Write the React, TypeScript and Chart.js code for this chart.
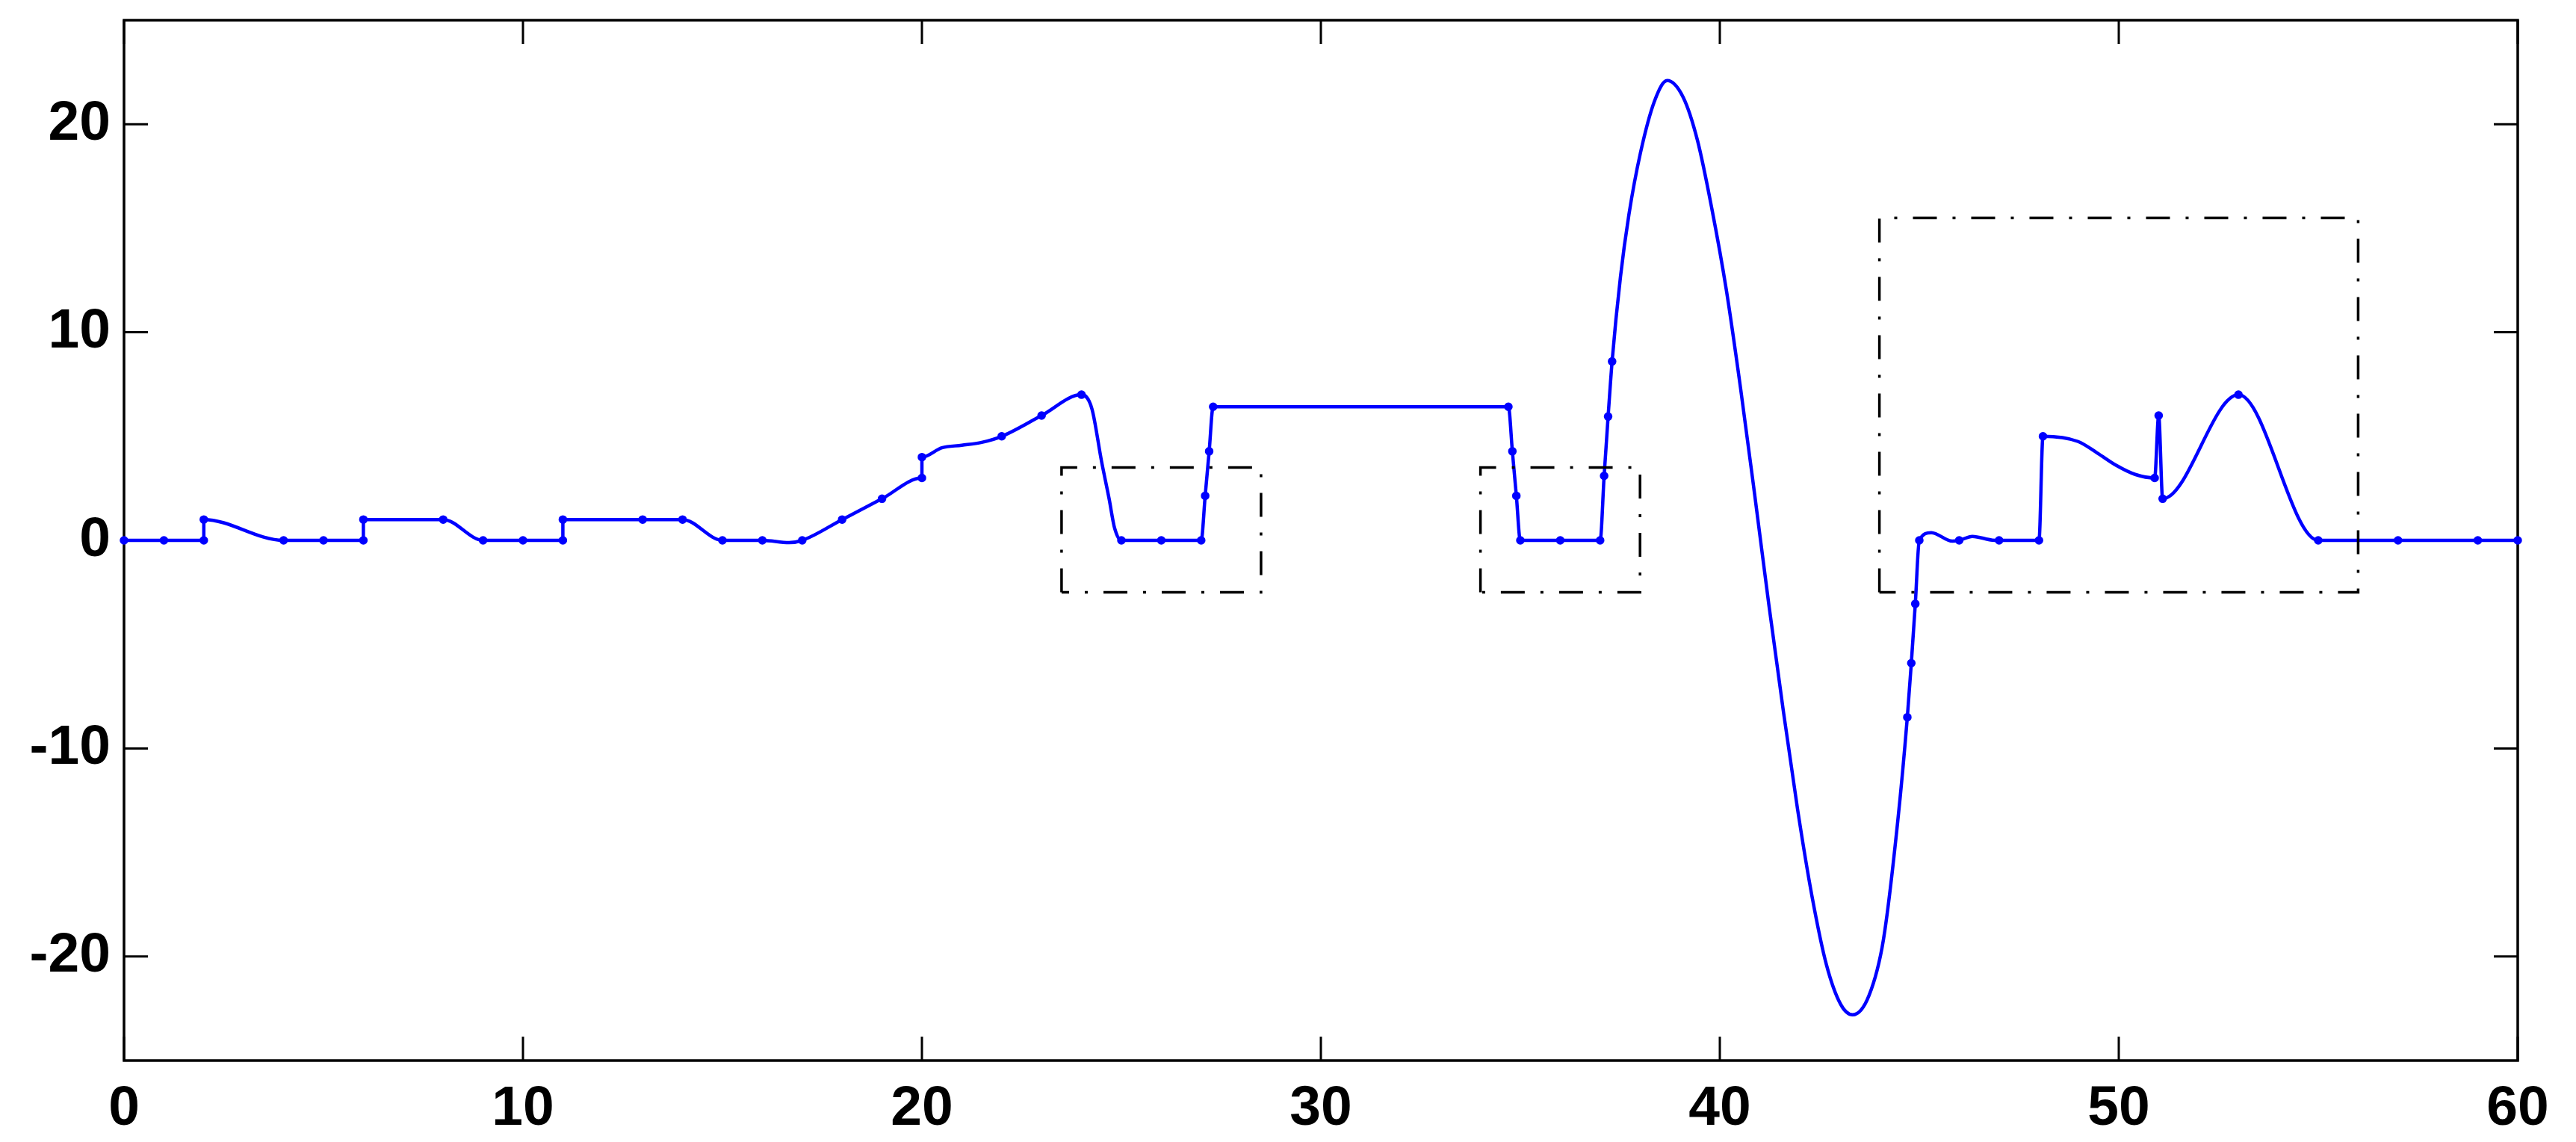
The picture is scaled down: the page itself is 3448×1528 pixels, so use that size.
import { useEffect, useRef } from 'react';
import { Chart, registerables } from 'chart.js';

Chart.register(...registerables);

// marked samples of the signal (jumps share the same x)
const sampleX = [
  0, 1, 2, 2, 4, 5, 6, 6, 8, 9, 10, 11, 11, 13, 14, 15, 16, 17, 18, 19, 20, 20, 22, 23, 24,
  25, 26, 27, 27.1, 27.2, 27.3, 34.7, 34.8, 34.9, 35, 36, 37, 37.1, 37.2, 37.3,
  44.7, 44.8, 44.9, 45, 46, 47, 48, 48.1, 50.9, 51, 51.1, 53, 55, 57, 59, 60,
];
const sampleY = [
  0, 0, 0, 1, 0, 0, 0, 1, 1, 0, 0, 0, 1, 1, 1, 0, 0, 0, 1, 2, 3, 4, 5, 6, 7,
  0, 0, 0, 2.14, 4.28, 6.42, 6.42, 4.28, 2.14, 0, 0, 0, 3.1, 5.95, 8.6,
  -8.5, -5.9, -3.05, 0, 0, 0, 0, 5, 3, 6, 2, 7, 0, 0, 0, 0,
];

// unmarked points of the drawn curve
const traceX = [
  16.67, 20.5, 21, 21.5, 24.26, 24.5, 24.69, 24.83,
  37.51, 37.72, 38.01, 38.37, 38.68, 39.08, 39.44, 39.8, 40.16, 40.52, 40.87, 41.23,
  41.59, 41.95, 42.31, 42.67, 43.03, 43.33, 43.74, 44.1, 44.46,
  45.3, 45.83, 46.33, 46.83, 48.98, 49.46, 49.94, 50.41,
];
const traceY = [
  -0.11, 4.45, 4.57, 4.71, 6.33, 3.82, 2.02, 0.59,
  12.67, 15.64, 18.62, 21.15, 22.1, 21.3, 19.22, 15.94, 12.07, 7.31, 2.25, -3.11,
  -8.17, -12.94, -17.1, -20.38, -22.3, -22.8, -21.87, -19.2, -13.5,
  0.37, -0.04, 0.19, 0.01, 4.75, 4.2, 3.6, 3.17,
];

// dash-dot boxes
const boxLeft = [23.5, 34, 44];
const boxRight = [28.5, 38, 56];
const boxBottom = [-2.5, -2.5, -2.5];
const boxTop = [3.5, 3.5, 15.5];

const xTicks = [0, 10, 20, 30, 40, 50, 60];
const yTicks = [-20, -10, 0, 10, 20];

const BLUE = '#0000ff';
const TICK_LEN = 32;

const framePlugin = {
  id: 'frame',
  beforeDatasetsDraw(chart: any) {
    const { ctx, chartArea, scales } = chart;
    const { left, right, top, bottom } = chartArea;
    ctx.save();
    ctx.strokeStyle = '#000';
    ctx.lineWidth = 3;
    ctx.beginPath();
    xTicks.forEach((v) => {
      const px = scales.x.getPixelForValue(v);
      ctx.moveTo(px, bottom);
      ctx.lineTo(px, bottom - TICK_LEN);
      ctx.moveTo(px, top);
      ctx.lineTo(px, top + TICK_LEN);
    });
    yTicks.forEach((v) => {
      const py = scales.y.getPixelForValue(v);
      ctx.moveTo(left, py);
      ctx.lineTo(left + TICK_LEN, py);
      ctx.moveTo(right, py);
      ctx.lineTo(right - TICK_LEN, py);
    });
    ctx.stroke();
    ctx.lineWidth = 3.5;
    ctx.strokeRect(left, top, right - left, bottom - top);
    ctx.restore();
  },
};

const tickFont = { family: "'Liberation Sans', Arial, sans-serif", size: 75, weight: 'bold' as const };

const App = () => {
  const canvasRef = useRef<HTMLCanvasElement | null>(null);

  useEffect(() => {
    document.body.style.margin = '0';
    document.body.style.overflow = 'hidden';
    if (!canvasRef.current) return;

    const samples = sampleX.map((x, i) => ({ x, y: sampleY[i] }));
    const trace = traceX.map((x, i) => ({ x, y: traceY[i] }));
    // stable sort keeps the order of the jump pairs
    const curve = [...samples, ...trace].sort((a, b) => a.x - b.x);

    const boxes = boxLeft.map((l, i) => ({
      data: [
        { x: l, y: boxBottom[i] },
        { x: l, y: boxTop[i] },
        { x: boxRight[i], y: boxTop[i] },
        { x: boxRight[i], y: boxBottom[i] },
        { x: l, y: boxBottom[i] },
      ],
      borderColor: '#000',
      borderWidth: 3.5,
      borderDash: [32, 21, 4, 21],
      pointRadius: 0,
      tension: 0,
      fill: false,
    }));

    const chart = new Chart(canvasRef.current, {
      type: 'line',
      data: {
        datasets: [
          ...boxes,
          {
            data: curve,
            borderColor: BLUE,
            borderWidth: 4.5,
            pointRadius: 0,
            cubicInterpolationMode: 'monotone',
            fill: false,
          },
          {
            data: samples,
            showLine: false,
            pointRadius: 5,
            pointBackgroundColor: BLUE,
            pointBorderColor: BLUE,
            pointBorderWidth: 1.5,
            clip: false,
          },
        ] as any,
      },
      options: {
        responsive: false,
        animation: false,
        layout: { padding: { top: 27, right: 78, left: 0, bottom: 0 } },
        plugins: { legend: { display: false }, tooltip: { enabled: false } },
        scales: {
          x: {
            type: 'linear',
            min: 0,
            max: 60,
            grid: { display: false, drawTicks: false },
            border: { display: false },
            afterBuildTicks: (s: any) => {
              s.ticks = xTicks.map((value) => ({ value }));
            },
            afterFit: (s: any) => {
              s.height = 109;
              s.paddingLeft = 0;
              s.paddingRight = 0;
            },
            ticks: { color: '#000', font: tickFont, padding: 20, maxRotation: 0 },
          },
          y: {
            type: 'linear',
            min: -25,
            max: 25,
            grid: { display: false, drawTicks: false },
            border: { display: false },
            afterBuildTicks: (s: any) => {
              s.ticks = yTicks.map((value) => ({ value }));
            },
            afterFit: (s: any) => {
              s.width = 166;
              s.paddingTop = 0;
              s.paddingBottom = 0;
            },
            ticks: { color: '#000', font: tickFont, padding: 18 },
          },
        },
      },
      plugins: [framePlugin],
    });

    return () => {
      chart.destroy();
    };
  }, []);

  return (
    <div style={{ width: 3448, height: 1528, background: '#fff' }}>
      <canvas ref={canvasRef} width={3448} height={1528} style={{ display: 'block', width: 3448, height: 1528 }} />
    </div>
  );
};

export default App;
